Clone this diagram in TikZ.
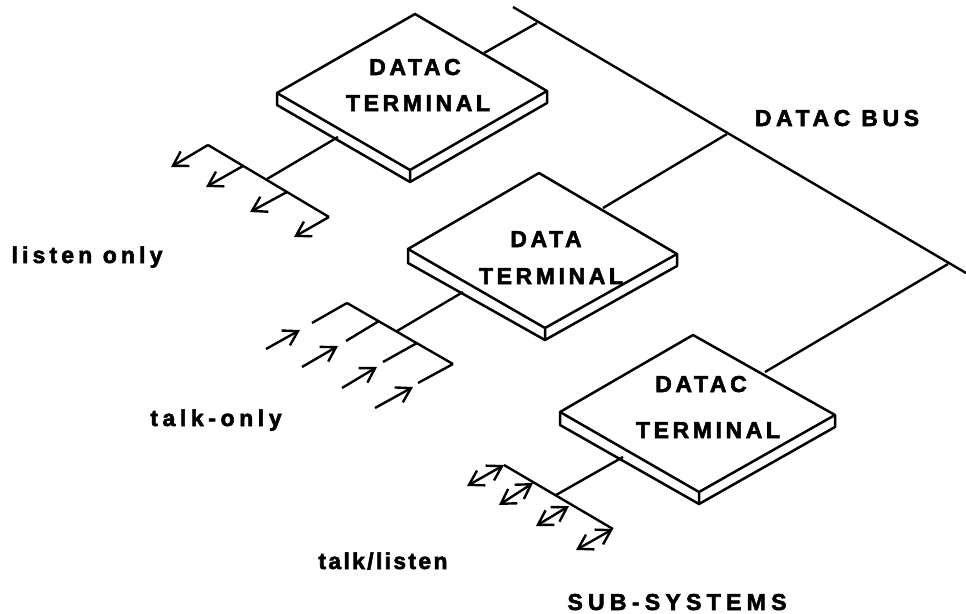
\documentclass[tikz,border=0pt]{standalone}
\usepackage{fontspec}
\usetikzlibrary{arrows.meta}
\setmainfont{Liberation Sans}
\newfontfamily\widefont[FakeBold=2.5]{Liberation Sans}

\begin{document}
\begin{tikzpicture}%
        [x=1pt,
        y=-1pt,
        >={Straight Barb[length=14pt,width=17pt,line width=2.4pt]},
        edge/.style={color=black, line width=2.4pt, line join=round},
        slab/.style={color=black, line width=2.5pt, line join=round, fill=white},
        caption/.style={inner sep=0pt, anchor=base, font=\widefont\bfseries\fontsize{23}{23}\selectfont\addfontfeature{LetterSpace=#1}},
        caption/.default=15.7]
    \useasboundingbox (0,0) rectangle (966,613);
    %
    %% Coordinates of the bus
    %%
    \coordinate (bus start) at (513,7);
    \coordinate (bus end) at (966,273);
    \coordinate (bus a) at (537,23);
    \coordinate (bus b) at (727,134);
    \coordinate (bus c) at (948,264);
    %%
    %% Coordinates of the terminals
    %%
    \coordinate (a top) at (415,14);
    \coordinate (a left) at (277,93);
    \coordinate (a right) at (547,91);
    \coordinate (a bottom) at (410,170);
    \coordinate (a lowleft) at (277,105);
    \coordinate (a lowright) at (547,103);
    \coordinate (a lowbottom) at (410,182);
    \coordinate (a bus) at (484,53);
    \coordinate (a stem) at (338,137);
    %%
    \coordinate (b top) at (539,173);
    \coordinate (b left) at (408,249);
    \coordinate (b right) at (677,254);
    \coordinate (b bottom) at (545,328);
    \coordinate (b lowleft) at (408,263);
    \coordinate (b lowright) at (677,266);
    \coordinate (b lowbottom) at (545,340);
    \coordinate (b bus) at (603,208);
    \coordinate (b stem) at (463,292);
    %%
    \coordinate (c top) at (693,335);
    \coordinate (c left) at (560,412);
    \coordinate (c right) at (835,415);
    \coordinate (c bottom) at (699,492);
    \coordinate (c lowleft) at (560,425);
    \coordinate (c lowright) at (835,427);
    \coordinate (c lowbottom) at (699,504);
    \coordinate (c bus) at (765,372);
    \coordinate (c stem) at (623,457);
    %%
    %% Coordinates of the combs
    %%
    \coordinate (a comb1) at (208,145);
    \coordinate (a comb2) at (243,166);
    \coordinate (a join) at (267,179);
    \coordinate (a comb3) at (287,192);
    \coordinate (a comb4) at (329,217);
    \coordinate (a tip1) at (171,167);
    \coordinate (a tip2) at (206,187);
    \coordinate (a tip3) at (250,212);
    \coordinate (a tip4) at (294,237);
    %%
    \coordinate (b comb1) at (347,303);
    \coordinate (b comb2) at (379,321);
    \coordinate (b join) at (397,331);
    \coordinate (b comb3) at (417,343);
    \coordinate (b comb4) at (453,364);
    \coordinate (b gap1) at (312,323);
    \coordinate (b gap2) at (346,341);
    \coordinate (b gap3) at (383,362);
    \coordinate (b gap4) at (418,383);
    \coordinate (b tail1) at (266,349);
    \coordinate (b tail2) at (302,367);
    \coordinate (b tail3) at (342,388);
    \coordinate (b tail4) at (375,408);
    \coordinate (b tip1) at (300,330);
    \coordinate (b tip2) at (338,346);
    \coordinate (b tip3) at (377,367);
    \coordinate (b tip4) at (413,387);
    %%
    \coordinate (c comb1) at (504,465);
    \coordinate (c comb2) at (533,483);
    \coordinate (c join) at (556,495);
    \coordinate (c comb3) at (569,506);
    \coordinate (c comb4) at (613,529);
    \coordinate (c tip1) at (467,486);
    \coordinate (c tip2) at (499,505);
    \coordinate (c tip3) at (536,526);
    \coordinate (c tip4) at (576,550);
    %%
    %% Drawing the bus and the stubs
    %%
    \draw[edge] (bus start) -- (bus end);
    \draw[edge] (a bus) -- (bus a);
    \draw[edge] (b bus) -- (bus b);
    \draw[edge] (c bus) -- (bus c);
    %%
    %% Drawing the terminals
    %%
    \draw[slab] (a left) -- (a top) -- (a right) -- (a lowright) -- (a lowbottom) -- (a lowleft) -- cycle;
    \draw[slab] (a left) -- (a bottom) -- (a right) (a bottom) -- (a lowbottom);
    \draw[slab] (b left) -- (b top) -- (b right) -- (b lowright) -- (b lowbottom) -- (b lowleft) -- cycle;
    \draw[slab] (b left) -- (b bottom) -- (b right) (b bottom) -- (b lowbottom);
    \draw[slab] (c left) -- (c top) -- (c right) -- (c lowright) -- (c lowbottom) -- (c lowleft) -- cycle;
    \draw[slab] (c left) -- (c bottom) -- (c right) (c bottom) -- (c lowbottom);
    %%
    %% Drawing the combs
    %%
    \draw[edge] (a stem) -- (a join);
    \draw[edge] (a comb1) -- (a comb4);
    \draw[edge,->] (a comb1) -- (a tip1);
    \draw[edge,->] (a comb2) -- (a tip2);
    \draw[edge,->] (a comb3) -- (a tip3);
    \draw[edge,->] (a comb4) -- (a tip4);
    %%
    \draw[edge] (b stem) -- (b join);
    \draw[edge] (b comb1) -- (b comb4);
    \draw[edge] (b comb1) -- (b gap1);
    \draw[edge] (b comb2) -- (b gap2);
    \draw[edge] (b comb3) -- (b gap3);
    \draw[edge] (b comb4) -- (b gap4);
    \draw[edge,->] (b tail1) -- (b tip1);
    \draw[edge,->] (b tail2) -- (b tip2);
    \draw[edge,->] (b tail3) -- (b tip3);
    \draw[edge,->] (b tail4) -- (b tip4);
    %%
    \draw[edge] (c stem) -- (c join);
    \draw[edge] (c comb1) -- (c comb4);
    \draw[edge,<->] (c comb1) -- (c tip1);
    \draw[edge,<->] (c comb2) -- (c tip2);
    \draw[edge,<->] (c comb3) -- (c tip3);
    \draw[edge,<->] (c comb4) -- (c tip4);
    %%
    %% Drawing the labels
    %%
    \node[caption] (a name) at (415,75) {DATAC};
    \node[caption] (a kind) at (418,111) {TERMINAL};
    \node[caption] (b name) at (546,247) {DATA};
    \node[caption] (b kind) at (551,284) {TERMINAL};
    \node[caption] (c name) at (701,392) {DATAC};
    \node[caption] (c kind) at (708,438) {TERMINAL};
    \node[caption=20] (bus name) at (837,126) {DATAC BUS};
    \node[caption=18] (listen name) at (87,263) {listen only};
    \node[caption=20] (talk name) at (216,426) {talk-only};
    \node[caption=10] (both name) at (383,569) {talk/listen};
    \node[caption=23] (systems name) at (677,610) {SUB-SYSTEMS};
    %%
\end{tikzpicture}
\end{document}
